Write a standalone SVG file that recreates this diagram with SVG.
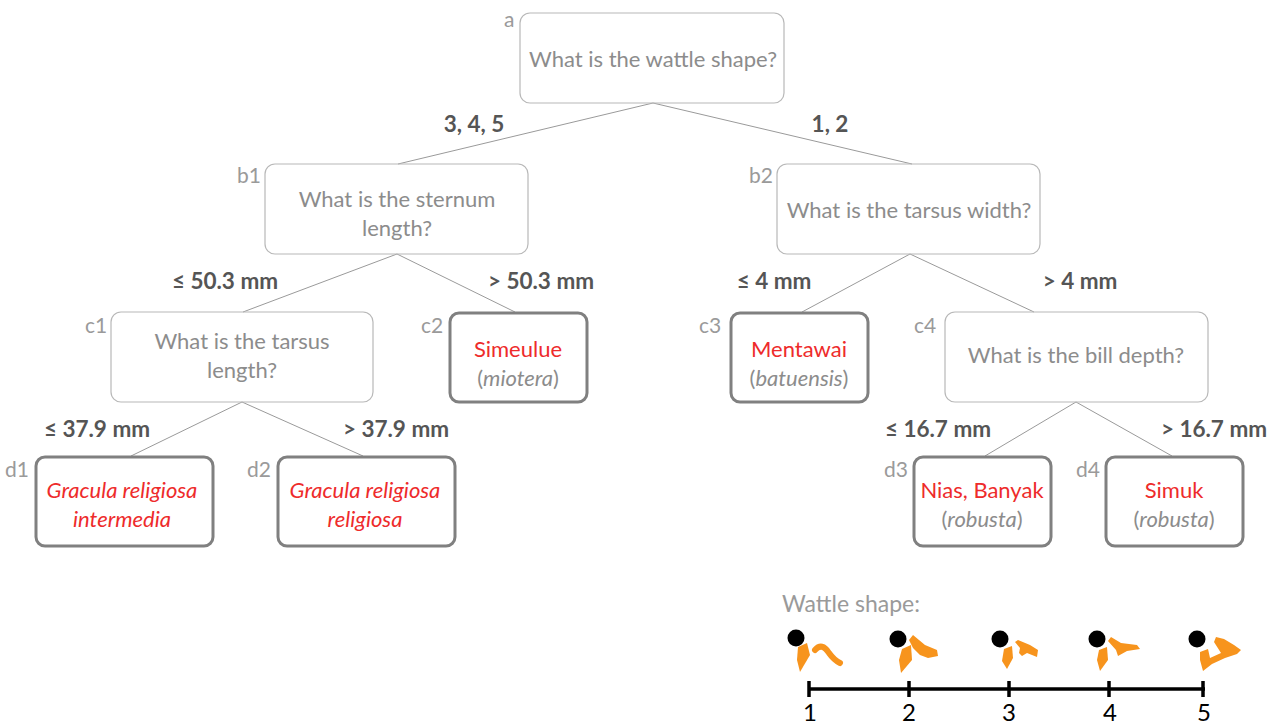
<svg xmlns="http://www.w3.org/2000/svg" width="1277" height="727" viewBox="0 0 1277 727">
  <style>
    text { font-family: Lato, "Open Sans", "Liberation Sans", sans-serif; }
    .q { fill: none; stroke: #b8b8b8; stroke-width: 1.2; }
    .leaf { fill: none; stroke: #808080; stroke-width: 3; }
    .qt { font-size: 22px; fill: #8c8c8c; text-anchor: middle; }
    .tag { font-size: 21px; fill: #9a9a9a; }
    .sp { font-size: 22px; fill: #ee2b2b; text-anchor: middle; }
    .spi { font-size: 22px; fill: #ee2b2b; text-anchor: middle; font-style: italic; }
    .par { font-size: 22px; fill: #8c8c8c; text-anchor: middle; }
    .cond { font-size: 22.5px; font-weight: bold; fill: #555555; text-anchor: middle; }
    .edge { stroke: #9a9a9a; stroke-width: 1; fill: none; }
    .wat { fill: #f7941d; }
  </style>

  <!-- tree connectors and branch conditions -->
  <g id="connectors">
    <line class="edge" x1="653" y1="103" x2="398" y2="164"/>
    <line class="edge" x1="653" y1="103" x2="912" y2="164"/>
    <line class="edge" x1="397" y1="254" x2="243" y2="312"/>
    <line class="edge" x1="397" y1="254" x2="515" y2="312"/>
    <line class="edge" x1="910" y1="254" x2="802" y2="312"/>
    <line class="edge" x1="910" y1="254" x2="1034" y2="312"/>
    <line class="edge" x1="242" y1="402" x2="131" y2="456"/>
    <line class="edge" x1="242" y1="402" x2="363" y2="456"/>
    <line class="edge" x1="1076" y1="402" x2="985" y2="456"/>
    <line class="edge" x1="1076" y1="402" x2="1172" y2="456"/>

    <text class="cond" x="474" y="132">3, 4, 5</text>
    <text class="cond" x="830" y="132">1, 2</text>
    <text class="cond" x="225" y="289">≤ 50.3 mm</text>
    <text class="cond" x="541" y="289">&gt; 50.3 mm</text>
    <text class="cond" x="774" y="289">≤ 4 mm</text>
    <text class="cond" x="1080" y="289">&gt; 4 mm</text>
    <text class="cond" x="97" y="437">≤ 37.9 mm</text>
    <text class="cond" x="396" y="437">&gt; 37.9 mm</text>
    <text class="cond" x="938" y="437">≤ 16.7 mm</text>
    <text class="cond" x="1214" y="437">&gt; 16.7 mm</text>
  </g>

  <!-- question nodes -->
  <g id="node-a">
    <rect class="q" x="520" y="13" width="264" height="90" rx="10"/>
    <text class="tag" x="504" y="27">a</text>
    <text class="qt" x="653" y="67">What is the wattle shape?</text>
  </g>
  <g id="node-b1">
    <rect class="q" x="265" y="164" width="263" height="90" rx="10"/>
    <text class="tag" x="237" y="183">b1</text>
    <text class="qt" x="397" y="207">What is the sternum</text>
    <text class="qt" x="397" y="236">length?</text>
  </g>
  <g id="node-b2">
    <rect class="q" x="777" y="164" width="263" height="90" rx="10"/>
    <text class="tag" x="749" y="183">b2</text>
    <text class="qt" x="909" y="218">What is the tarsus width?</text>
  </g>
  <g id="node-c1">
    <rect class="q" x="111" y="312" width="262" height="90" rx="10"/>
    <text class="tag" x="85" y="333">c1</text>
    <text class="qt" x="242" y="349">What is the tarsus</text>
    <text class="qt" x="242" y="378">length?</text>
  </g>
  <g id="node-c4">
    <rect class="q" x="945" y="312" width="263" height="90" rx="10"/>
    <text class="tag" x="914" y="333">c4</text>
    <text class="qt" x="1076" y="363">What is the bill depth?</text>
  </g>

  <!-- leaf nodes -->
  <g id="node-c2">
    <rect class="leaf" x="450" y="313" width="137" height="89" rx="9"/>
    <text class="tag" x="421" y="333">c2</text>
    <text class="sp" x="518" y="357">Simeulue</text>
    <text class="par" x="518" y="386">(<tspan font-style="italic">miotera</tspan>)</text>
  </g>
  <g id="node-c3">
    <rect class="leaf" x="731" y="313" width="137" height="89" rx="9"/>
    <text class="tag" x="699" y="333">c3</text>
    <text class="sp" x="799" y="357">Mentawai</text>
    <text class="par" x="799" y="386">(<tspan font-style="italic">batuensis</tspan>)</text>
  </g>
  <g id="node-d1">
    <rect class="leaf" x="36" y="457" width="177" height="89" rx="9"/>
    <text class="tag" x="5" y="477">d1</text>
    <text class="spi" x="122" y="498">Gracula religiosa</text>
    <text class="spi" x="122" y="527">intermedia</text>
  </g>
  <g id="node-d2">
    <rect class="leaf" x="278" y="457" width="177" height="89" rx="9"/>
    <text class="tag" x="247" y="477">d2</text>
    <text class="spi" x="365" y="498">Gracula religiosa</text>
    <text class="spi" x="365" y="527">religiosa</text>
  </g>
  <g id="node-d3">
    <rect class="leaf" x="914" y="457" width="137" height="89" rx="9"/>
    <text class="tag" x="884" y="477">d3</text>
    <text class="sp" x="982" y="498">Nias, Banyak</text>
    <text class="par" x="982" y="527">(<tspan font-style="italic">robusta</tspan>)</text>
  </g>
  <g id="node-d4">
    <rect class="leaf" x="1106" y="457" width="137" height="89" rx="9"/>
    <text class="tag" x="1076" y="477">d4</text>
    <text class="sp" x="1174" y="498">Simuk</text>
    <text class="par" x="1174" y="527">(<tspan font-style="italic">robusta</tspan>)</text>
  </g>

  <!-- wattle shape scale -->
  <g id="legend">
    <text x="782" y="612" font-size="23" fill="#9a9a9a">Wattle shape:</text>

    <!-- shape 1 -->
    <circle cx="796" cy="638" r="8.5" fill="#000"/>
    <polygon class="wat" points="798,647 807,643 810,655 800,672 797,660"/>
    <path d="M815,650 Q822,642 829,653 Q834,660 840,663" fill="none" stroke="#f7941d" stroke-width="6" stroke-linecap="round" stroke-linejoin="round"/>

    <!-- shape 2 -->
    <circle cx="898" cy="639" r="8.5" fill="#000"/>
    <polygon class="wat" points="902,649 911,645 912,660 901,673 899,660"/>
    <polygon class="wat" points="909,640 913,635 925,645 937,650 938,656 928,658 920,655 913,648"/>

    <!-- shape 3 -->
    <circle cx="1000" cy="639" r="8.5" fill="#000"/>
    <polygon class="wat" points="1004,649 1012,646 1013,658 1007,669 1002,661"/>
    <polygon class="wat" points="1015,642 1018,640 1030,645 1038,650 1037,657 1027,653 1022,656 1019,653 1020,648"/>

    <!-- shape 4 -->
    <circle cx="1097" cy="639" r="8.5" fill="#000"/>
    <polygon class="wat" points="1099,650 1107,647 1108,660 1100,671 1097,660"/>
    <polygon class="wat" points="1108,641 1111,637 1121,643 1137,645 1140,649 1127,651 1118,656 1116,650"/>

    <!-- shape 5 -->
    <circle cx="1197" cy="639" r="8.5" fill="#000"/>
    <polygon class="wat" points="1200,652 1208,649 1210,658 1221,653 1214,642 1216,637 1224,639 1234,645 1241,650 1237,654 1225,658 1212,664 1203,671 1200,660"/>

    <!-- axis -->
    <g stroke="#000" stroke-width="3.5">
      <line x1="808" y1="689" x2="1205" y2="689"/>
      <line x1="809" y1="681" x2="809" y2="697"/>
      <line x1="909" y1="681" x2="909" y2="697"/>
      <line x1="1009" y1="681" x2="1009" y2="697"/>
      <line x1="1109" y1="681" x2="1109" y2="697"/>
      <line x1="1203" y1="681" x2="1203" y2="697"/>
    </g>
    <g font-size="24" fill="#000" text-anchor="middle">
      <text x="810" y="721">1</text>
      <text x="909" y="721">2</text>
      <text x="1009" y="721">3</text>
      <text x="1110" y="721">4</text>
      <text x="1204" y="721">5</text>
    </g>
  </g>
</svg>
